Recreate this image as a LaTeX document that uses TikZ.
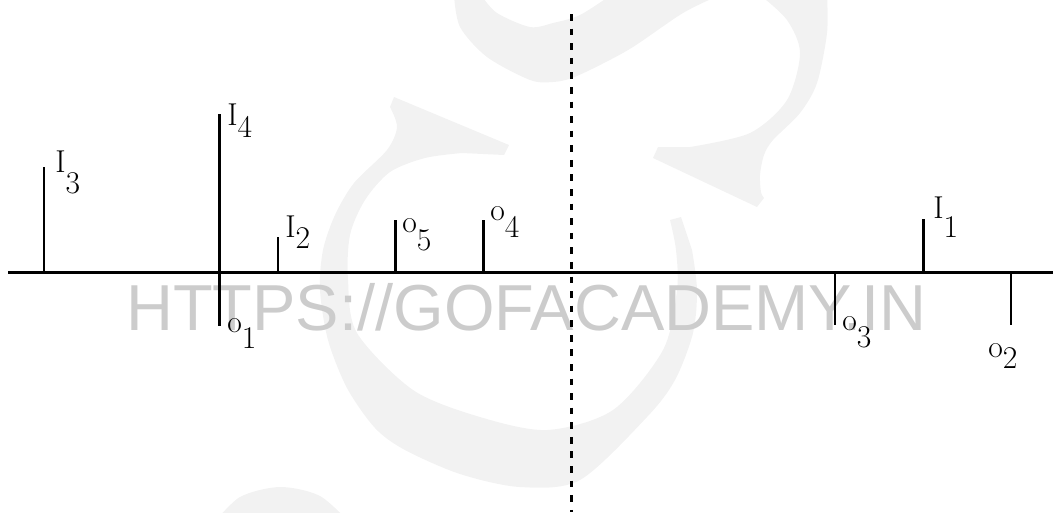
\documentclass[tikz,border=0pt]{standalone}
\usepackage{fontspec}
\newfontfamily\wmfont{Liberation Sans}
\usetikzlibrary{positioning}
\newcommand{\sublbl}[3]{#1\raisebox{-#3}{#2}}

\begin{document}
\begin{tikzpicture}[x=0.02cm,y=-0.02cm,
  axisline/.style={line width=1.7pt,black},
  stem/.style={line width=1.5pt,black},
  mirror/.style={line width=1.7pt,black,dash pattern=on 3.8pt off 4.5pt},
  lbl/.style={anchor=base west,inner sep=0pt,font=\fontsize{18}{20}\selectfont},
  wm/.style={anchor=base,inner sep=0pt,text=black!20,font=\wmfont\fontsize{37}{40}\selectfont},
  logo/.style={fill=gray!10}]
\useasboundingbox (0,0) rectangle (1053,512);
\begin{scope}
\clip (0,0) rectangle (1053,512);
\fill[logo] plot[smooth] coordinates {(454,-5) (460,27) (487,57) (530,80) (553,82) (572,78) (600,65) (633,47) (683,13) (720,-5)}
  -- plot[smooth] coordinates {(611,-5) (580,15) (553,23) (530,27) (497,13) (481,-5)} -- cycle;
\fill[logo] plot[smooth] coordinates {(827,-5) (827,33) (817,83) (800,113) (773,140) (764,155) (760,175) (761,192) (764,198)}
  -- (757,207) -- (653,158) -- (658,147)
  -- plot[smooth] coordinates {(690,147) (750,133) (787,100) (800,53) (787,20) (760,-5)} -- cycle;
\fill[logo] (394,97) -- (509,145) -- (504,155)
  -- plot[smooth] coordinates {(462,153) (425,158) (390,172) (365,200) (350,235) (348,280) (357,333) (413,390) (480,417) (547,430) (613,410) (663,350) (677,290) (676,250) (670,220)}
  -- (681,217)
  -- plot[smooth] coordinates {(692,250) (697,290) (693,333) (675,380) (647,417) (580,480) (520,487) (460,474) (405,450) (375,428) (347,388) (328,340) (320,290) (323,250) (335,215) (354,183) (387,150) (397,127) (390,107)}
  -- cycle;
\fill[logo] plot[smooth] coordinates {(212,525) (240,497) (280,487) (320,496) (352,525)} -- cycle;
\end{scope}
\node[wm] (url) at (526.5,330) {HTTPS://GOFACADEMY.IN};
\coordinate (axl) at (8.3,272.5);
\coordinate (axr) at (1053,272.5);
\draw[axisline] (axl) -- (axr);
\coordinate (mt) at (571.5,14);
\coordinate (mb) at (571.5,512);
\draw[mirror] (mt) -- (mb);
\foreach \n/\x/\t/\b in {i3/44/167/272.5,i4/219.7/114/272.5,o1/219.7/272.5/326,i2/278/237/272.5,
  o5/395.5/220/272.5,o4/483.7/220/272.5,o3/835/272.5/325,i1/923.3/219/272.5,o2/1011/272.5/325}
{
  \coordinate (\n t) at (\x,\t);
  \coordinate (\n b) at (\x,\b);
  \draw[stem] (\n t) -- (\n b);
}
\node[lbl] (li3) at (55,172) {\sublbl{I}{3}{0.42cm}};
\node[lbl] (li4) at (227,125) {\sublbl{I}{4}{0.24cm}};
\node[lbl] (li2) at (285,237) {\sublbl{I}{2}{0.22cm}};
\node[lbl] (lo5) at (402,232) {\sublbl{o}{5}{0.36cm}};
\node[lbl] (lo4) at (490,220) {\sublbl{o}{4}{0.34cm}};
\node[lbl] (li1) at (933,218) {\sublbl{I}{1}{0.38cm}};
\node[lbl] (lo1) at (227,332) {\sublbl{o}{1}{0.32cm}};
\node[lbl] (lo3) at (842,330) {\sublbl{o}{3}{0.34cm}};
\node[lbl] (lo2) at (988,357) {\sublbl{o}{2}{0.22cm}};
\end{tikzpicture}
\end{document}
